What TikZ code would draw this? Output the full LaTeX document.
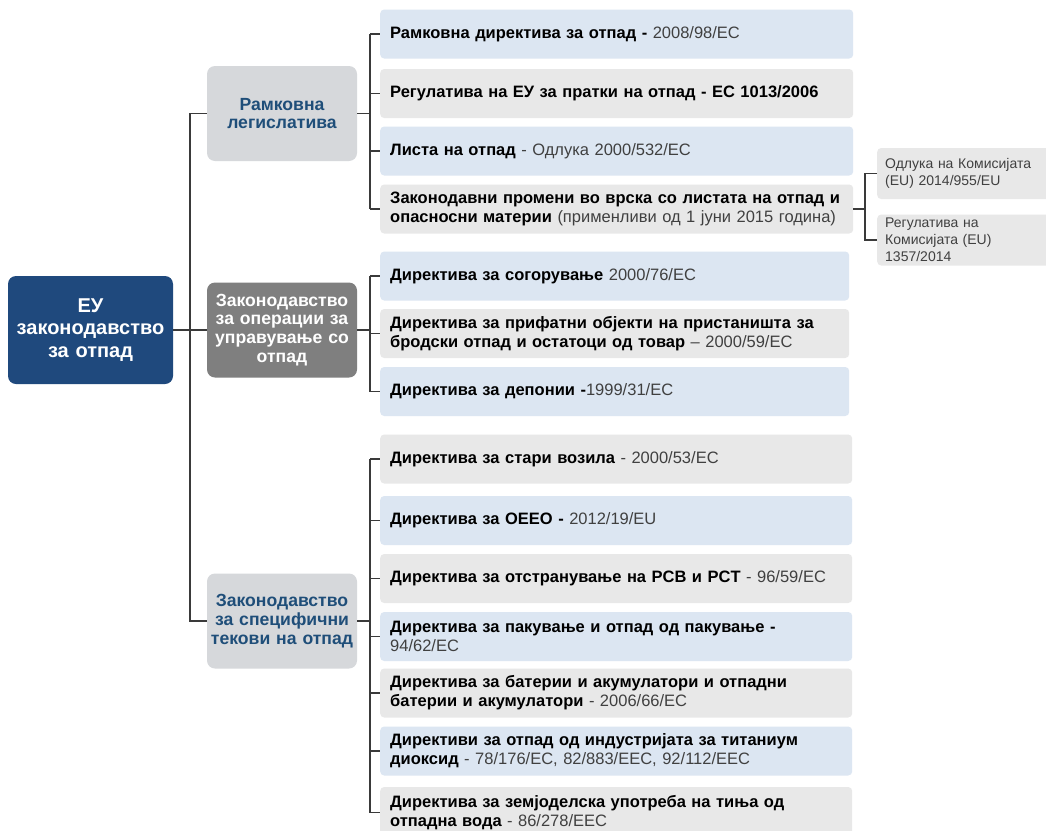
\documentclass[tikz,border=0pt]{standalone}
\usepackage{fontspec}
\setmainfont{Liberation Sans}
\definecolor{rootc}{HTML}{1F497D}
\definecolor{cattext}{HTML}{1F4E79}
\definecolor{catlight}{HTML}{D6D8DB}
\definecolor{catdark}{HTML}{7F7F7F}
\definecolor{itblue}{HTML}{DCE6F2}
\definecolor{itgray}{HTML}{E8E8E8}
\definecolor{numc}{HTML}{404040}
\definecolor{linec}{HTML}{3A3A3A}
\newcommand{\B}[1]{\textbf{#1}}
\tikzset{
  conn/.style={draw=linec, line width=1.2pt},
  itembox/.style={anchor=west, rounded corners=4pt, inner xsep=10pt, inner ysep=0pt,
    text width=453pt, align=left, minimum height=49pt,
    font=\fontsize{16.5}{19}\selectfont, text=numc},
  itb/.style={itembox, fill=itblue},
  itg/.style={itembox, fill=itgray},
  catbox/.style={rounded corners=8pt, minimum width=150pt, minimum height=95pt,
    text width=146pt, align=center, inner sep=0pt,
    font=\fontsize{17.6}{18.8}\selectfont\bfseries},
  catl/.style={catbox, fill=catlight, text=cattext},
  catd/.style={catbox, fill=catdark, text=white},
  subbox/.style={anchor=west, rounded corners=4pt, fill=itgray, inner xsep=8pt, inner ysep=0pt,
    text width=170pt, align=left, minimum height=51pt, text=numc,
    font=\fontsize{14}{17}\selectfont},
}
\begin{document}
\begin{tikzpicture}[x=1pt,y=-1pt]
\useasboundingbox (0,0) rectangle (1046,830);
\clip (0,0) rectangle (1046,830);
\fill[white] (0,0) rectangle (1046,830);

% root
\node[rounded corners=8pt, fill=rootc, text=white, minimum width=165pt, minimum height=108pt,
  text width=160pt, align=center, inner sep=0pt,
  font=\fontsize{20}{22.5}\selectfont\bfseries] (root) at (90.5,330) {ЕУ\\законодавство\\за отпад};

% categories
\node[catl] (cat1) at (282,113.5) {Рамковна\\легислатива};
\node[catd] (cat2) at (282,330) {Законодавство\\за операции за\\управување со\\отпад};
\node[catl] (cat3) at (282,621) {Законодавство\\за специфични\\текови на отпад};

% group 1
\node[itb] (a1) at (380,34) {\B{\color{black}Рамковна директива за отпад -} 2008/98/EC};
\node[itg] (b1) at (380,93.5) {\B{\color{black}Регулатива на ЕУ за пратки на отпад - ЕС 1013/2006}};
\node[itb] (c1) at (380,151) {\B{\color{black}Листа на отпад} - Одлука 2000/532/EC};
\node[itg] (d1) at (380,209) {\B{\color{black}Законодавни промени во врска со листата на отпад и}\\\B{\color{black}опасносни материи} (применливи од 1 јуни 2015 година)};

% group 2
\node[itb, text width=449pt] (a2) at (380,276) {\B{\color{black}Директива за согорување} 2000/76/EC};
\node[itg, text width=449pt] (b2) at (380,333.5) {\B{\color{black}Директива за прифатни објекти на пристаништа за}\\\B{\color{black}бродски отпад и остатоци од товар} – 2000/59/EC};
\node[itb, text width=449pt] (c2) at (380,391.5) {\B{\color{black}Директива за депонии -}1999/31/EC};

% group 3
\node[itg, text width=452pt] (a3) at (380,459) {\B{\color{black}Директива за стари возила} - 2000/53/EC};
\node[itb, text width=452pt] (b3) at (380,520.5) {\B{\color{black}Директива за ОЕЕО -} 2012/19/EU};
\node[itg, text width=452pt] (c3) at (380,578.5) {\B{\color{black}Директива за отстранување на PCB и PCT} - 96/59/EC};
\node[itb, text width=452pt] (d3) at (380,636.5) {\B{\color{black}Директива за пакување и отпад од пакување -}\\94/62/EC};
\node[itg, text width=452pt] (e3) at (380,693) {\B{\color{black}Директива за батерии и акумулатори и отпадни}\\\B{\color{black}батерии и акумулатори} - 2006/66/EC};
\node[itb, text width=452pt] (f3) at (380,751) {\B{\color{black}Директиви за отпад од индустријата за титаниум}\\\B{\color{black}диоксид} - 78/176/EC, 82/883/EEC, 92/112/EEC};
\node[itg, text width=452pt, minimum height=51pt] (g3) at (380,812.5) {\B{\color{black}Директива за земјоделска употреба на тиња од}\\\B{\color{black}отпадна вода} - 86/278/EEC};

% sub boxes
\node[subbox] (s1) at (877,173.5) {Одлука на Комисијата\\(EU) 2014/955/EU};
\node[subbox] (s2) at (877,240) {Регулатива на\\Комисијата (EU)\\1357/2014};

% connectors
\coordinate (tx) at (190,0);
\coordinate (bx) at (370,0);
\coordinate (sx) at (865,0);
\draw[conn] (root.east) -- (cat2.west);
\draw[conn] (cat1.west) -- (cat1.west -| tx) -- (cat3.west -| tx) -- (cat3.west);
\draw[conn] (cat1.east) -- (cat1.east -| bx);
\draw[conn] (cat2.east) -- (cat2.east -| bx);
\draw[conn] (cat3.east) -- (cat3.east -| bx);
\draw[conn] (a1.west -| bx) -- (d1.west -| bx);
\draw[conn] (a2.west -| bx) -- (c2.west -| bx);
\draw[conn] (a3.west -| bx) -- (g3.west -| bx);
\foreach \n in {a1,b1,c1,d1,a2,b2,c2,a3,b3,c3,d3,e3,f3,g3}
  \draw[conn] (\n.west -| bx) -- (\n.west);
\draw[conn] (d1.east) -- (d1.east -| sx);
\draw[conn] (s1.west) -- (s1.west -| sx) -- (s2.west -| sx) -- (s2.west);
\end{tikzpicture}
\end{document}
